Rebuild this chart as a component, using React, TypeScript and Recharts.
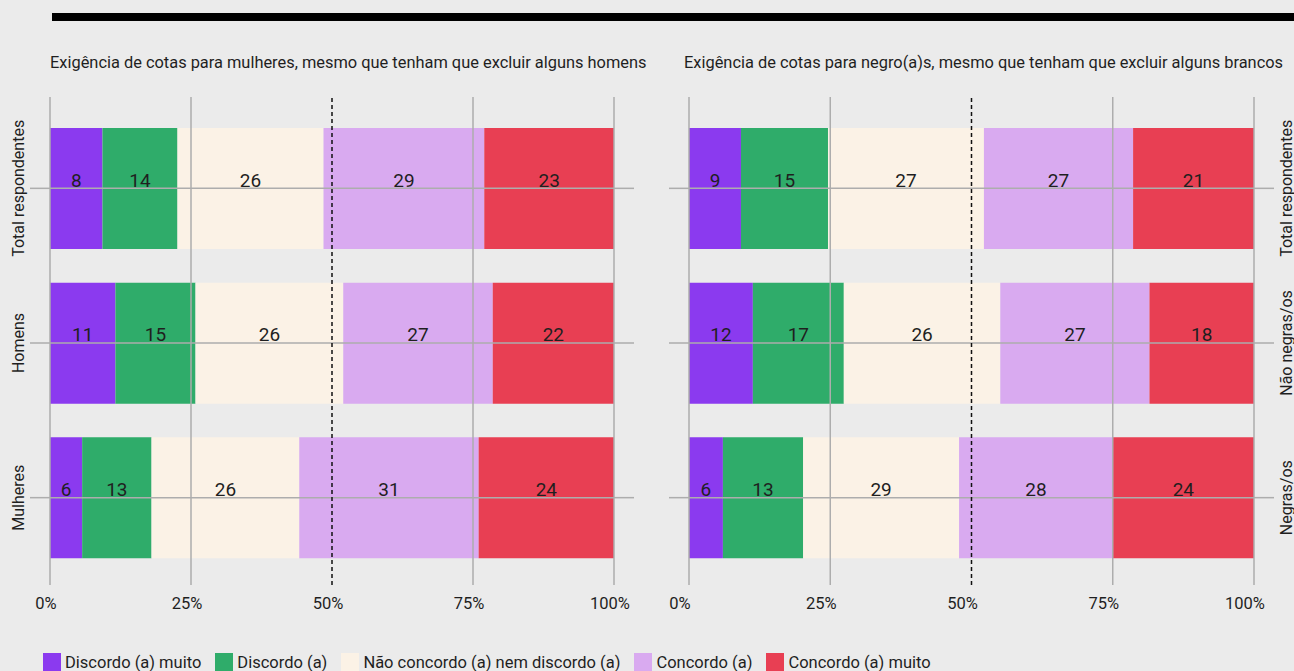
import React from 'react';
import {
  BarChart,
  Bar,
  XAxis,
  YAxis,
  ReferenceLine,
  LabelList,
} from 'recharts';

// categories
const genderGroups = ['Total respondentes', 'Homens', 'Mulheres'];
const raceGroups = ['Total respondentes', 'Não negras/os', 'Negras/os'];

const seriesNames = [
  'Discordo (a) muito',
  'Discordo (a)',
  'Não concordo (a) nem discordo (a)',
  'Concordo (a)',
  'Concordo (a) muito',
];
const seriesColors = ['#8b3aef', '#2fac6a', '#fbf2e6', '#d9aaf0', '#e83f53'];

// bar shares (%)
const genderDiscordoMuito = [9.3, 11.6, 5.7];
const genderDiscordo = [13.3, 14.2, 12.3];
const genderNeutro = [25.9, 26.2, 26.2];
const genderConcordo = [28.5, 26.5, 31.8];
const genderConcordoMuito = [23.0, 21.5, 24.0];

const raceDiscordoMuito = [9.2, 11.3, 6.0];
const raceDiscordo = [15.4, 16.1, 14.2];
const raceNeutro = [27.6, 27.7, 27.6];
const raceConcordo = [26.4, 26.4, 27.2];
const raceConcordoMuito = [21.4, 18.5, 25.0];

// printed labels
const genderLabels = [
  [8, 11, 6],
  [14, 15, 13],
  [26, 26, 26],
  [29, 27, 31],
  [23, 22, 24],
];
const raceLabels = [
  [9, 12, 6],
  [15, 17, 13],
  [27, 26, 29],
  [27, 27, 28],
  [21, 18, 24],
];

const percentTicks = [0, 25, 50, 75, 100];
const gridTicks = [0, 25, 75, 100];

const FONT = 'Roboto, sans-serif';
const GRID = '#adadad';
const TEXT = '#1f1f1f';

function buildRows(groups: string[], series: number[][], labels: number[][]) {
  return groups.map((g, i) => {
    const row: Record<string, string | number> = { group: g };
    series.forEach((s, k) => {
      row[`s${k}`] = s[i];
      row[`l${k}`] = labels[k][i];
    });
    return row;
  });
}

const genderData = buildRows(
  genderGroups,
  [genderDiscordoMuito, genderDiscordo, genderNeutro, genderConcordo, genderConcordoMuito],
  genderLabels
);
const raceData = buildRows(
  raceGroups,
  [raceDiscordoMuito, raceDiscordo, raceNeutro, raceConcordo, raceConcordoMuito],
  raceLabels
);

const SegmentLabel = (props: any) => {
  const { x, y, width, height, value } = props;
  return (
    <text
      x={x + width / 2}
      y={y + height / 2 - 2}
      textAnchor="middle"
      fill={TEXT}
      fontSize={19}
      fontFamily={FONT}
    >
      {value}
    </text>
  );
};

const LeftGroupTick = (props: any) => {
  const { x, y, payload } = props;
  return (
    <text
      transform={`translate(${x - 10}, ${y}) rotate(-90)`}
      textAnchor="middle"
      dominantBaseline="central"
      fill={TEXT}
      fontSize={16}
      fontFamily={FONT}
    >
      {payload.value}
    </text>
  );
};

const RightGroupTick = (props: any) => {
  const { x, y, payload } = props;
  return (
    <text
      transform={`translate(${x + 10}, ${y}) rotate(-90)`}
      textAnchor="middle"
      dominantBaseline="central"
      fill={TEXT}
      fontSize={16}
      fontFamily={FONT}
    >
      {payload.value}
    </text>
  );
};

const NoTick = () => <g />;

function Panel({ data, labelsLeft }: { data: Record<string, string | number>[]; labelsLeft: boolean }) {
  return (
    <BarChart
      width={labelsLeft ? 640 : 630}
      height={671}
      data={data}
      layout="vertical"
      margin={labelsLeft ? { top: 97, right: 6, left: 0, bottom: 56 } : { top: 97, right: 0, left: 5, bottom: 56 }}
      barCategoryGap={0}
    >
      <XAxis
        type="number"
        domain={[0, 100]}
        ticks={percentTicks}
        tickFormatter={(v) => `${v}%`}
        axisLine={false}
        tickLine={false}
        tickSize={0}
        tickMargin={12}
        height={30}
        tick={{ fill: TEXT, fontSize: 16.5, fontFamily: FONT, dx: labelsLeft ? -4 : -9 }}
      />
      <YAxis
        yAxisId="left"
        type="category"
        dataKey="group"
        width={labelsLeft ? 50 : 20}
        axisLine={false}
        tickSize={20}
        tickLine={{ stroke: GRID, strokeWidth: 1.5 }}
        padding={{ top: 14, bottom: 10 }}
        tick={labelsLeft ? <LeftGroupTick /> : <NoTick />}
      />
      <YAxis
        yAxisId="right"
        orientation="right"
        type="category"
        dataKey="group"
        width={labelsLeft ? 20 : 40}
        axisLine={false}
        tickSize={20}
        tickLine={{ stroke: GRID, strokeWidth: 1.5 }}
        padding={{ top: 14, bottom: 10 }}
        tick={labelsLeft ? <NoTick /> : <RightGroupTick />}
      />
      {seriesNames.map((name, k) => (
        <Bar
          key={name}
          yAxisId="left"
          dataKey={`s${k}`}
          name={name}
          stackId="a"
          fill={seriesColors[k]}
          barSize={121}
          isAnimationActive={false}
        >
          <LabelList dataKey={`l${k}`} content={<SegmentLabel />} />
        </Bar>
      ))}
      {gridTicks.map((t) => (
        <ReferenceLine key={`x${t}`} yAxisId="left" x={t} stroke={GRID} strokeWidth={1.5} />
      ))}
      {data.map((row) => (
        <ReferenceLine key={`y${row.group}`} yAxisId="left" y={row.group} stroke={GRID} strokeWidth={1.5} />
      ))}
      <ReferenceLine yAxisId="left" x={50} stroke="#111" strokeWidth={1.5} strokeDasharray="4 3" />
    </BarChart>
  );
}

export default function App() {
  return (
    <div
      style={{
        position: 'absolute',
        top: 0,
        left: 0,
        width: 1294,
        height: 671,
        background: '#ebebeb',
        overflow: 'hidden',
        fontFamily: FONT,
        color: TEXT,
      }}
    >
      <div style={{ position: 'absolute', left: 52, top: 13, width: 1242, height: 8, background: '#000' }} />
      <div style={{ position: 'absolute', left: 50, top: 53, fontSize: 16.4, whiteSpace: 'nowrap' }}>
        Exigência de cotas para mulheres, mesmo que tenham que excluir alguns homens
      </div>
      <div style={{ position: 'absolute', left: 684, top: 53, fontSize: 16.4, whiteSpace: 'nowrap' }}>
        Exigência de cotas para negro(a)s, mesmo que tenham que excluir alguns brancos
      </div>
      <div style={{ position: 'absolute', left: 0, top: 0 }}>
        <Panel data={genderData} labelsLeft={true} />
      </div>
      <div style={{ position: 'absolute', left: 664, top: 0 }}>
        <Panel data={raceData} labelsLeft={false} />
      </div>
      <div
        style={{
          position: 'absolute',
          left: 43,
          top: 652,
          display: 'flex',
          alignItems: 'flex-start',
          fontSize: 16.5,
          whiteSpace: 'nowrap',
        }}
      >
        {seriesNames.map((name, k) => (
          <div key={name} style={{ display: 'flex', alignItems: 'flex-start', marginRight: 14 }}>
            <div style={{ width: 18, height: 20, background: seriesColors[k], marginRight: 4, marginTop: 1 }} />
            <span style={{ lineHeight: '22px' }}>{name}</span>
          </div>
        ))}
      </div>
    </div>
  );
}
